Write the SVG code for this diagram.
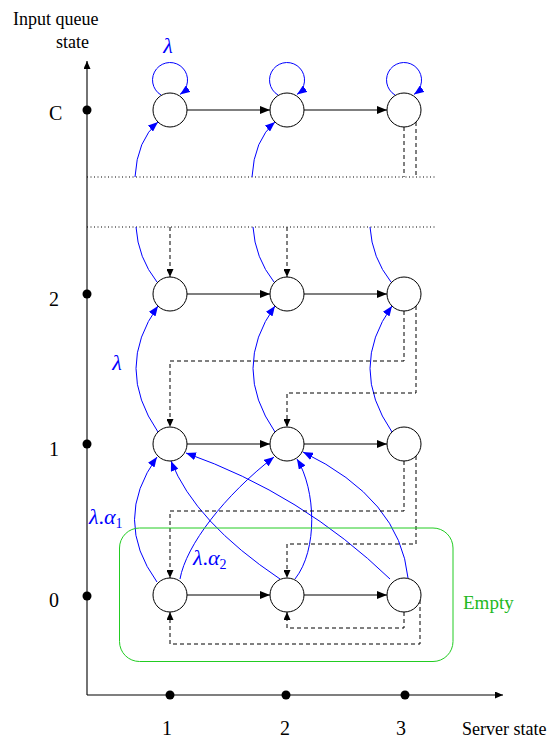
<svg xmlns="http://www.w3.org/2000/svg" width="550" height="742" viewBox="0 0 550 742">
<style>
.node{fill:#fff;stroke:#000;stroke-width:1}
.blk{stroke:#000;stroke-width:1.1;fill:none}
.blue{stroke:#0000ff;stroke-width:1;fill:none}
.dash{stroke:#000;stroke-width:1;stroke-dasharray:4 3;fill:none}
.dotl{stroke:#000;stroke-width:1;stroke-dasharray:1 2.5;fill:none}
.axis{stroke:#000;stroke-width:1.1;fill:none}
.tick{fill:#000}
.lbl{font-family:"Liberation Serif",serif;font-size:18px;fill:#000}
.num{font-family:"Liberation Serif",serif;font-size:20px;fill:#000}
.math{font-family:"Liberation Serif",serif;font-size:22px;fill:#0000ff;font-style:italic}
.sub{font-size:14px;font-style:normal}
.green{stroke:#22cc22;stroke-width:1;fill:none}
</style>
<defs>
<marker id="ab" markerUnits="userSpaceOnUse" viewBox="0 0 10 8" refX="10" refY="4" markerWidth="10" markerHeight="8" orient="auto"><path d="M0,0 L10,4 L0,8 Z" fill="#000"/></marker>
<marker id="abs" markerUnits="userSpaceOnUse" viewBox="0 0 8 7" refX="8" refY="3.5" markerWidth="8" markerHeight="7" orient="auto"><path d="M0,0 L8,3.5 L0,7 Z" fill="#000"/></marker>
<marker id="abl" markerUnits="userSpaceOnUse" viewBox="0 0 10 8" refX="10" refY="4" markerWidth="10" markerHeight="8" orient="auto"><path d="M0,0 L10,4 L0,8 Z" fill="#0000ff"/></marker>
</defs>

<g id="axes">
<path class="axis" d="M87,695 V61" marker-end="url(#abs)"/>
<path class="axis" d="M87,695 H503" marker-end="url(#abs)"/>
<circle class="tick" cx="87" cy="110" r="4.5"/>
<circle class="tick" cx="87" cy="294" r="4.5"/>
<circle class="tick" cx="87" cy="444" r="4.5"/>
<circle class="tick" cx="87" cy="596" r="4.5"/>
<circle class="tick" cx="170" cy="695" r="4.5"/>
<circle class="tick" cx="286" cy="695" r="4.5"/>
<circle class="tick" cx="405" cy="695" r="4.5"/>
<text class="lbl" x="13" y="25">Input queue</text>
<text class="lbl" x="56" y="48">state</text>
<text class="num" x="49" y="120">C</text>
<text class="num" x="49" y="306">2</text>
<text class="num" x="49" y="456">1</text>
<text class="num" x="49" y="607">0</text>
<text class="num" x="167" y="735" text-anchor="middle">1</text>
<text class="num" x="285" y="735" text-anchor="middle">2</text>
<text class="num" x="401" y="735" text-anchor="middle">3</text>
<text class="lbl" x="462" y="735">Server state</text>
</g>

<g id="connectors">
<path class="dotl" d="M87,177 H437"/>
<path class="dotl" d="M87,227 H437"/>
<path class="blk" d="M187,110 H270" marker-end="url(#ab)"/>
<path class="blk" d="M304,110 H387" marker-end="url(#ab)"/>
<path class="blk" d="M187,294 H270" marker-end="url(#ab)"/>
<path class="blk" d="M304,294 H387" marker-end="url(#ab)"/>
<path class="blk" d="M187,444 H270" marker-end="url(#ab)"/>
<path class="blk" d="M304,444 H387" marker-end="url(#ab)"/>
<path class="blk" d="M187,595 H270" marker-end="url(#ab)"/>
<path class="blk" d="M304,595 H387" marker-end="url(#ab)"/>
<path class="blue" d="M161,95 A17.5 17.5 0 1 1 180,94.4" marker-end="url(#abl)"/>
<path class="blue" d="M278,95 A17.5 17.5 0 1 1 297,94.4" marker-end="url(#abl)"/>
<path class="blue" d="M395,95 A17.5 17.5 0 1 1 414,94.4" marker-end="url(#abl)"/>
<path class="blue" d="M135,177 Q137,140 158,122" marker-end="url(#abl)"/>
<path class="blue" d="M252,177 Q254,140 275,122" marker-end="url(#abl)"/>
<path class="blue" d="M157,282 Q138,258 136,227"/>
<path class="blue" d="M274,282 Q255,258 253,227"/>
<path class="blue" d="M391,282 Q372,258 370,227"/>
<path class="blue" d="M158,432 Q114,368 158,306" marker-end="url(#abl)"/>
<path class="blue" d="M275,432 Q231,368 275,306" marker-end="url(#abl)"/>
<path class="blue" d="M392,432 Q348,368 392,306" marker-end="url(#abl)"/>
<path class="blue" d="M157,582 Q112,520 157,457" marker-end="url(#abl)"/>
<path class="blue" d="M180,579 C186,545 225,495 274,457" marker-end="url(#abl)"/>
<path class="blue" d="M280,579 Q195,522 171,461" marker-end="url(#abl)"/>
<path class="blue" d="M295,579 C318,550 316,490 297,459" marker-end="url(#abl)"/>
<path class="blue" d="M390,579 Q302,494 186,453" marker-end="url(#abl)"/>
<path class="blue" d="M408,578 Q400,499 303,452" marker-end="url(#abl)"/>
<path class="dash" d="M404,127 V177"/>
<path class="dash" d="M416,122 V177"/>
<path class="dash" d="M170,227 V277" marker-end="url(#abs)"/>
<path class="dash" d="M287,227 V277" marker-end="url(#abs)"/>
<path class="dash" d="M404,311 V361 H170 V427" marker-end="url(#abs)"/>
<path class="dash" d="M416,306 V393 H287 V427" marker-end="url(#abs)"/>
<path class="dash" d="M404,461 V511 H170 V578" marker-end="url(#abs)"/>
<path class="dash" d="M416,456 V544 H287 V578" marker-end="url(#abs)"/>
<path class="dash" d="M404,612 V628 H287 V612" marker-end="url(#abs)"/>
<path class="dash" d="M420,600 V644 H170 V612" marker-end="url(#abs)"/>
</g>

<g id="node-c1-rC"><circle class="node" cx="170" cy="110" r="17"/></g>
<g id="node-c2-rC"><circle class="node" cx="287" cy="110" r="17"/></g>
<g id="node-c3-rC"><circle class="node" cx="404" cy="110" r="17"/></g>
<g id="node-c1-r2"><circle class="node" cx="170" cy="294" r="17"/></g>
<g id="node-c2-r2"><circle class="node" cx="287" cy="294" r="17"/></g>
<g id="node-c3-r2"><circle class="node" cx="404" cy="294" r="17"/></g>
<g id="node-c1-r1"><circle class="node" cx="170" cy="444" r="17"/></g>
<g id="node-c2-r1"><circle class="node" cx="287" cy="444" r="17"/></g>
<g id="node-c3-r1"><circle class="node" cx="404" cy="444" r="17"/></g>
<g id="node-c1-r0"><circle class="node" cx="170" cy="595" r="17"/></g>
<g id="node-c2-r0"><circle class="node" cx="287" cy="595" r="17"/></g>
<g id="node-c3-r0"><circle class="node" cx="404" cy="595" r="17"/></g>

<g id="empty-region">
<rect class="green" x="119.5" y="528" width="333.5" height="133.5" rx="20" ry="20"/>
<text x="463" y="609" style="font-family:'Liberation Serif',serif;font-size:19px;fill:#22b822">Empty</text>
</g>

<g id="labels">
<text class="math" x="168" y="53" text-anchor="middle">λ</text>
<text class="math" x="117" y="370" text-anchor="middle">λ</text>
<text class="math" x="89" y="524">λ<tspan font-style="normal">.</tspan>α<tspan class="sub" dy="4">1</tspan></text>
<text class="math" x="193" y="565">λ<tspan font-style="normal">.</tspan>α<tspan class="sub" dy="4">2</tspan></text>
</g>
</svg>
